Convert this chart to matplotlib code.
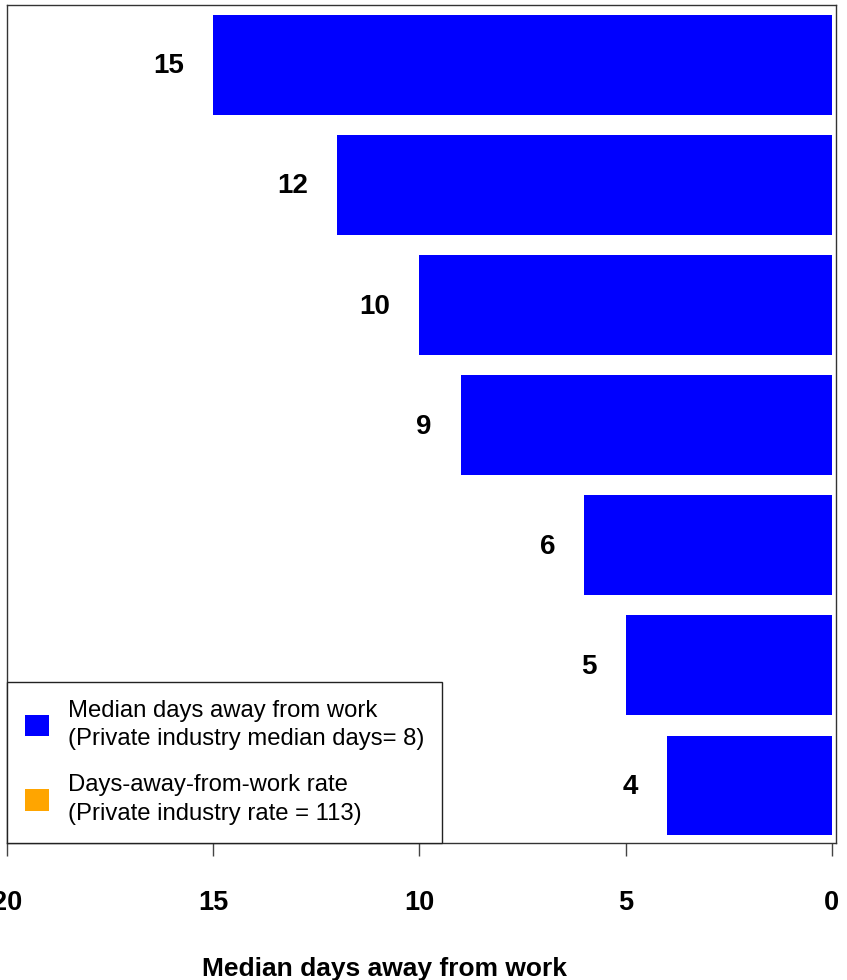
import matplotlib.pyplot as plt
from matplotlib.patches import Patch

# bars top to bottom
positions = [0, 1, 2, 3, 4, 5, 6]
median_days = [15, 12, 10, 9, 6, 5, 4]
x_ticks = [20, 15, 10, 5, 0]

color_days = "#0000ff"
color_rate = "#ffa500"

plt.rcParams["font.family"] = ["Liberation Sans", "DejaVu Sans"]

fig = plt.figure(figsize=(8.47, 9.8), dpi=100)
ax = fig.add_axes([0.0083, 0.1398, 0.9787, 0.8551])

ax.barh(positions, median_days, height=0.83, color=color_days, zorder=2)
for y, v in zip(positions, median_days):
    ax.annotate(str(v), (v, y), xytext=(-21, -1), textcoords="offset points",
                ha="right", va="center", fontsize=20, fontweight="bold")

ax.set_xlim(20, -0.1)
ax.set_ylim(6.48, -0.5)
ax.set_yticks([])
ax.set_xticks(x_ticks)
ax.set_xticklabels([str(t) for t in x_ticks], fontsize=19.5, fontweight="bold")
ax.tick_params(axis="x", length=9, width=1, pad=25, color="#444444")
for lab in ax.get_xticklabels():
    lab.set_clip_on(False)
for s in ax.spines.values():
    s.set_color("#333333")
    s.set_linewidth(1.0)

# axis title sits left of the axes centre in the original
fig.text(384.5 / 847, 1 - 976 / 980, "Median days away from work",
         ha="center", va="baseline", fontsize=19, fontweight="bold")

handles = [Patch(facecolor=color_days, edgecolor="none"),
           Patch(facecolor=color_rate, edgecolor="none")]
labels = ["Median days away from work\n(Private industry median days= 8)",
          "Days-away-from-work rate\n(Private industry rate = 113)"]
leg = ax.legend(handles, labels, loc="lower left", bbox_to_anchor=(0, 0),
                borderaxespad=0, fancybox=False, framealpha=1,
                prop={"size": 17.2},
                handlelength=1.0, handleheight=1.0, handletextpad=0.8,
                labelspacing=1.0, borderpad=0.75)
for t in leg.get_texts():
    t.set_linespacing(1.4)
leg.get_frame().set_edgecolor("#222222")
leg.get_frame().set_linewidth(1.0)

fig.savefig("out.png", dpi=100)
